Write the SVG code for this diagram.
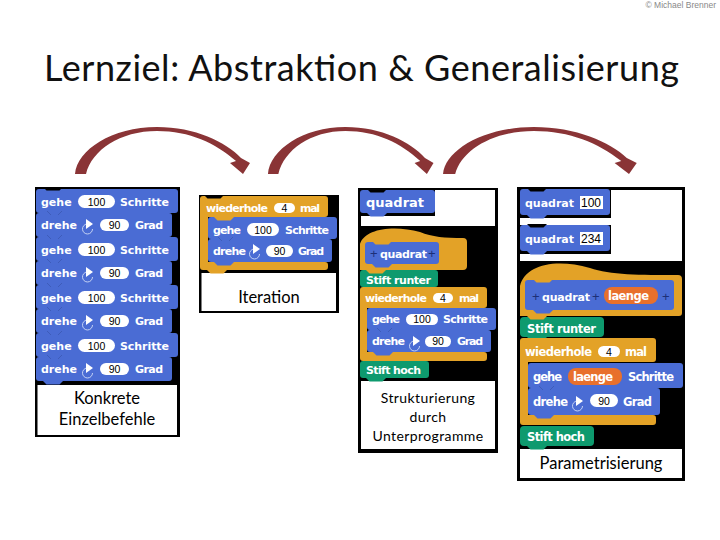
<svg xmlns="http://www.w3.org/2000/svg" width="720" height="540" viewBox="0 0 720 540">
<style>
.bl{fill:#4a6cd4}.or{fill:#e3a227}.gr{fill:#0e9a6e}.la{fill:#e8702c}.k{fill:#000}.w{fill:#fff}
.s{font:bold 11px "DejaVu Sans",sans-serif;fill:#fff}
.s2{font:bold 11.500px "DejaVu Sans",sans-serif;fill:#fff}
.q{font:bold 13px "DejaVu Sans",sans-serif;fill:#fff}
.pl{font:13px "Liberation Sans",sans-serif;fill:#1c2f78}
.n{font:10.500px "Liberation Sans",sans-serif;fill:#000;text-anchor:middle}
.f{font:12px "Liberation Sans",sans-serif;fill:#000}
.c{font:16.500px Lato,sans-serif;fill:#000;text-anchor:middle}
.c2{font:14px Lato,sans-serif;letter-spacing:.4px;fill:#000;text-anchor:middle}
.arr{fill:#8a3436}
.tk{stroke:#3a56ad;stroke-width:.7;fill:none}
</style>
<defs>
<path id="bump" d="M0 0h20l-3.500 3.500h-13z"/>
<path id="ticks" class="tk" d="M5 -2l4 4M16 2l4 -4"/>
<g id="turn"><path d="M0 -7A5 5 0 1 0 5.500 -2" fill="none" stroke="#c5d2f4" stroke-width="1"/><path d="M-1 -12L6 -7L-1 -2z" fill="#fff"/></g>
<path id="arrow" d="M75 174C77 150 112 127 157 127C195 127 226 142 241 158L250 163L243 174L230 163L236 161C215 143 190 131 157 131C120 131 92 150 86 174Z"/>
</defs>
<rect width="720" height="540" fill="#fff"/>
<text x="716" y="8" text-anchor="end" style="font:8.500px 'Liberation Sans',sans-serif;fill:#888">© Michael Brenner</text>
<text x="44" y="81" textLength="635" style="font:36px Lato,sans-serif;fill:#111">Lernziel: Abstraktion &amp; Generalisierung</text>

<g id="connectors" class="arr">
<use href="#arrow"/>
<use href="#arrow" transform="translate(197 0) scale(.946 1)"/>
<use href="#arrow" transform="translate(360 0) scale(1.107 1)"/>
</g>

<g id="node-konkrete">
<rect class="k" x="35" y="187" width="145" height="250"/>
<rect class="w" x="37.500" y="385" width="139.500" height="50"/>
<g class="bl">
<rect x="36" y="189" width="142" height="24" rx="3"/><rect x="36" y="213" width="136" height="24" rx="3"/>
<rect x="36" y="237" width="142" height="24" rx="3"/><rect x="36" y="261" width="136" height="24" rx="3"/>
<rect x="36" y="285" width="142" height="24" rx="3"/><rect x="36" y="309" width="136" height="24" rx="3"/>
<rect x="36" y="333" width="142" height="24" rx="3"/><rect x="36" y="357" width="136" height="24" rx="3"/>
<use href="#bump" x="43" y="381"/>
</g>
<use href="#bump" x="43" y="187" class="k"/>
<use href="#ticks" x="42" y="213"/><use href="#ticks" x="42" y="237"/><use href="#ticks" x="42" y="261"/><use href="#ticks" x="42" y="285"/><use href="#ticks" x="42" y="309"/><use href="#ticks" x="42" y="333"/><use href="#ticks" x="42" y="357"/>
<g class="w">
<rect x="78" y="195" width="37" height="13" rx="6.500"/><rect x="100" y="219" width="29" height="12" rx="6"/>
<rect x="78" y="243" width="37" height="13" rx="6.500"/><rect x="100" y="267" width="29" height="12" rx="6"/>
<rect x="78" y="291" width="37" height="13" rx="6.500"/><rect x="100" y="315" width="29" height="12" rx="6"/>
<rect x="78" y="339" width="37" height="13" rx="6.500"/><rect x="100" y="363" width="29" height="12" rx="6"/>
</g>
<use href="#turn" x="87" y="231"/><use href="#turn" x="87" y="279"/><use href="#turn" x="87" y="327"/><use href="#turn" x="87" y="375"/>
<text class="s" x="41" y="206">gehe</text><text class="n" x="96.500" y="206">100</text><text class="s" x="120" y="206" textLength="49">Schritte</text>
<text class="s" x="41" y="229">drehe</text><text class="n" x="114.500" y="229">90</text><text class="s" x="135" y="229" textLength="28">Grad</text>
<text class="s" x="41" y="254">gehe</text><text class="n" x="96.500" y="254">100</text><text class="s" x="120" y="254" textLength="49">Schritte</text>
<text class="s" x="41" y="277">drehe</text><text class="n" x="114.500" y="277">90</text><text class="s" x="135" y="277" textLength="28">Grad</text>
<text class="s" x="41" y="302">gehe</text><text class="n" x="96.500" y="302">100</text><text class="s" x="120" y="302" textLength="49">Schritte</text>
<text class="s" x="41" y="325">drehe</text><text class="n" x="114.500" y="325">90</text><text class="s" x="135" y="325" textLength="28">Grad</text>
<text class="s" x="41" y="350">gehe</text><text class="n" x="96.500" y="350">100</text><text class="s" x="120" y="350" textLength="49">Schritte</text>
<text class="s" x="41" y="373">drehe</text><text class="n" x="114.500" y="373">90</text><text class="s" x="135" y="373" textLength="28">Grad</text>
<text class="c" x="107" y="404">Konkrete</text><text class="c" x="107" y="425">Einzelbefehle</text>
</g>

<g id="node-iteration">
<rect class="k" x="199" y="195" width="140" height="118"/>
<rect class="w" x="201.500" y="273" width="134.500" height="38"/>
<path class="or" d="M203 196H325Q328 196 328 199V214Q328 217 325 217H208V262H325Q328 262 328 265V267Q328 270 325 270H203Q200 270 200 267V199Q200 196 203 196Z"/>
<use href="#bump" x="207" y="270" class="or"/>
<use href="#bump" x="204" y="195" class="k"/>
<rect class="bl" x="208" y="217" width="129" height="22" rx="3"/><rect class="bl" x="208" y="239" width="124" height="23" rx="3"/>
<use href="#bump" x="214" y="262" class="bl"/>
<use href="#bump" x="214" y="217" class="or"/>
<use href="#ticks" x="213" y="239"/>
<g class="w"><rect x="274" y="203" width="21" height="10" rx="5"/><rect x="247" y="223" width="32" height="13" rx="6.500"/><rect x="266" y="245" width="27" height="12" rx="6"/></g>
<use href="#turn" x="254" y="256"/>
<text class="s" x="206" y="212" textLength="62">wiederhole</text><text class="n" x="284.500" y="212">4</text><text class="s" x="300" y="212" textLength="20">mal</text>
<text class="s" x="213" y="234" textLength="28">gehe</text><text class="n" x="263" y="234">100</text><text class="s" x="285" y="234" textLength="44">Schritte</text>
<text class="s" x="213" y="255" textLength="33">drehe</text><text class="n" x="279.500" y="255">90</text><text class="s" x="298" y="255" textLength="26">Grad</text>
<text class="c" x="269" y="303">Iteration</text>
</g>

<g id="node-unterprogramme">
<rect class="k" x="358" y="188" width="140" height="265"/>
<rect class="w" x="361" y="190" width="134" height="36"/>
<rect class="k" x="361" y="190" width="74" height="26"/>
<rect class="w" x="361" y="381" width="134" height="68"/>
<rect class="bl" x="360" y="190" width="75" height="23" rx="3"/>
<use href="#bump" x="367" y="213" class="bl"/><use href="#bump" x="367" y="189" class="k"/>
<text class="q" x="366" y="207">quadrat</text>
<path class="or" d="M360 244C365 228 395 225 420 232C432 237 445 238 463 238Q467 238 467 242V266Q467 270 463 270H360Z"/>
<rect class="bl" x="365" y="242" width="74" height="22" rx="3"/>
<use href="#bump" x="372" y="264" class="bl"/><use href="#bump" x="372" y="241" class="or"/>
<text class="pl" x="370" y="258">+</text><text class="s" x="380" y="258" textLength="47">quadrat</text><text class="pl" x="428" y="258">+</text>
<rect class="gr" x="360" y="270" width="78" height="17" rx="3"/><use href="#bump" x="366" y="287" class="gr"/>
<use href="#bump" x="366" y="270" class="or"/>
<text class="s" x="366" y="284" textLength="65">Stift runter</text>
<path class="or" d="M363 287H484Q487 287 487 290V305Q487 308 484 308H367V352H484Q487 352 487 355V358Q487 361 484 361H363Q360 361 360 358V290Q360 287 363 287Z"/>
<rect class="bl" x="367" y="308" width="129" height="22" rx="3"/><rect class="bl" x="367" y="330" width="124" height="22" rx="3"/>
<use href="#bump" x="373" y="352" class="bl"/><use href="#ticks" x="372" y="330"/>
<g class="w"><rect x="433" y="293" width="20" height="10" rx="5"/><rect x="406" y="314" width="32" height="11" rx="5.500"/><rect x="425" y="336" width="26" height="11" rx="5.500"/></g>
<use href="#turn" x="414" y="348"/>
<text class="s" x="365" y="302" textLength="62">wiederhole</text><text class="n" x="443" y="302">4</text><text class="s" x="459" y="302" textLength="20">mal</text>
<text class="s" x="372" y="323" textLength="28">gehe</text><text class="n" x="422" y="323">100</text><text class="s" x="443" y="323" textLength="45">Schritte</text>
<text class="s" x="372" y="345" textLength="33">drehe</text><text class="n" x="438" y="345">90</text><text class="s" x="457" y="345" textLength="26">Grad</text>
<rect class="gr" x="360" y="361" width="69" height="17" rx="3"/><use href="#bump" x="366" y="378" class="gr"/>
<text class="s" x="366" y="374" textLength="55">Stift hoch</text>
<text class="c2" x="428" y="403">Strukturierung</text><text class="c2" x="428" y="422">durch</text><text class="c2" x="428" y="441">Unterprogramme</text>
</g>

<g id="node-parametrisierung">
<rect class="k" x="517" y="187" width="168" height="294"/>
<rect class="w" x="520" y="190" width="162" height="71"/>
<rect class="k" x="520" y="190" width="91" height="28"/><rect class="k" x="520" y="225" width="91" height="29"/>
<rect class="w" x="520" y="449" width="162" height="29"/>
<rect class="bl" x="520" y="189" width="90" height="26" rx="3"/><use href="#bump" x="527" y="215" class="bl"/><use href="#bump" x="527" y="188" class="k"/>
<rect class="bl" x="520" y="225" width="90" height="26" rx="3"/><use href="#bump" x="527" y="251" class="bl"/><use href="#bump" x="527" y="224" class="k"/>
<rect class="w" x="580" y="196" width="23" height="13"/><rect class="w" x="580" y="232" width="23" height="13"/>
<text class="s" x="525" y="207" textLength="49">quadrat</text><text class="f" x="581" y="207">100</text>
<text class="s" x="525" y="243" textLength="49">quadrat</text><text class="f" x="581" y="243">234</text>
<path class="or" d="M520 286C525 265 555 258 590 268C610 275 640 275 678 275Q682 275 682 279V313Q682 316 679 316H520Z"/>
<rect class="bl" x="525" y="280" width="149" height="30" rx="3"/>
<use href="#bump" x="533" y="310" class="bl"/><use href="#bump" x="533" y="279" class="or"/>
<rect class="la" x="604" y="287" width="54" height="17" rx="8"/>
<text class="pl" x="532" y="301">+</text><text class="s" x="542" y="301" textLength="48">quadrat</text><text class="pl" x="592" y="301">+</text>
<text class="s2" x="608" y="300" textLength="41">laenge</text><text class="pl" x="662" y="301">+</text>
<rect class="gr" x="520" y="317" width="84" height="20" rx="4"/><use href="#bump" x="527" y="337" class="gr"/><use href="#bump" x="527" y="316" class="or"/>
<text class="s2" x="527" y="333" textLength="69">Stift runter</text>
<path class="or" d="M523 338H653Q656 338 656 341V359Q656 362 653 362H528V415H653Q656 415 656 418V422Q656 425 653 425H523Q520 425 520 422V341Q520 338 523 338Z"/>
<rect class="bl" x="528" y="363" width="155" height="25" rx="3"/><rect class="bl" x="528" y="388" width="132" height="27" rx="3"/>
<use href="#bump" x="534" y="415" class="bl"/><use href="#ticks" x="534" y="388"/>
<g class="w"><rect x="598" y="346" width="22" height="11" rx="5.500"/><rect x="590" y="394" width="28" height="13" rx="6.500"/></g>
<rect class="la" x="568" y="368" width="54" height="17" rx="8"/>
<use href="#turn" x="577" y="408"/>
<text class="s2" x="525" y="356" textLength="67">wiederhole</text><text class="n" x="609" y="356">4</text><text class="s2" x="625" y="356" textLength="22">mal</text>
<text class="s2" x="533" y="381" textLength="29">gehe</text><text class="s2" x="573" y="381" textLength="40">laenge</text><text class="s2" x="628" y="381" textLength="46">Schritte</text>
<text class="s2" x="533" y="406" textLength="35">drehe</text><text class="n" x="604" y="405">90</text><text class="s2" x="623" y="406" textLength="29">Grad</text>
<rect class="gr" x="520" y="426" width="74" height="20" rx="4"/><use href="#bump" x="527" y="446" class="gr"/>
<text class="s2" x="527" y="441" textLength="58">Stift hoch</text>
<text class="c" x="601" y="469">Parametrisierung</text>
</g>
</svg>
